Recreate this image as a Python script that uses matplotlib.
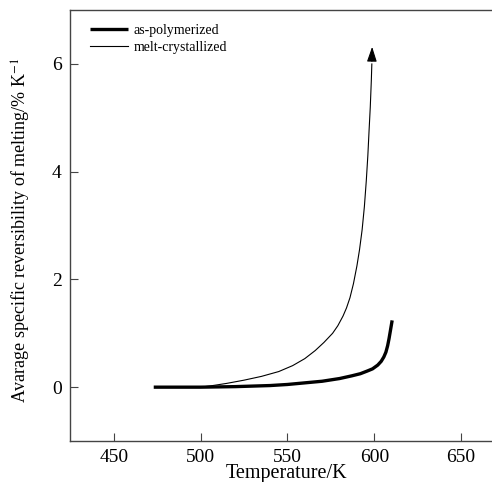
import matplotlib
matplotlib.use('Agg')
import matplotlib.pyplot as plt

# as-polymerized (thick)
t_poly = [473, 490, 500, 510, 520, 530, 540, 550, 560, 570, 580, 587, 592, 596, 599,
          602, 604, 605.5, 606.7, 607.7, 608.5, 609.3, 610.3]
r_poly = [0.0, 0.0, 0.0, 0.005, 0.01, 0.02, 0.03, 0.05, 0.08, 0.11, 0.16, 0.21, 0.25, 0.30, 0.34,
          0.41, 0.48, 0.56, 0.65, 0.77, 0.90, 1.05, 1.24]

# melt-crystallized (thin, ends in arrow)
t_melt = [500, 507, 515, 525, 535, 545, 553, 560, 566, 571, 576, 579, 582, 584, 586, 588,
          590, 591.5, 593, 594.3, 595.4, 596.3, 597, 597.7, 598.3, 598.6]
r_melt = [0.0, 0.03, 0.07, 0.13, 0.20, 0.29, 0.40, 0.53, 0.68, 0.83, 1.0, 1.14, 1.32, 1.47, 1.66, 1.92,
          2.25, 2.55, 2.92, 3.35, 3.83, 4.3, 4.76, 5.2, 5.69, 6.0]
arrow_tip = (598.8, 6.37)

xticks = [450, 500, 550, 600, 650]
yticks = [0, 2, 4, 6]

plt.rcParams['font.family'] = ['Liberation Serif', 'DejaVu Serif']
plt.rcParams['mathtext.fontset'] = 'stix'

fig = plt.figure(figsize=(4.92, 4.82), dpi=100)
ax = fig.add_axes([0.142, 0.085, 0.858, 0.894])

ax.plot(t_poly, r_poly, color='black', lw=2.4, solid_capstyle='butt', solid_joinstyle='round',
        label='as-polymerized')
ax.plot(t_melt, r_melt, color='black', lw=0.8, solid_joinstyle='round', label='melt-crystallized')
ax.annotate('', xy=arrow_tip, xytext=(t_melt[-1], r_melt[-1]),
            arrowprops=dict(arrowstyle='-|>,head_length=0.9,head_width=0.3', color='black', lw=0.8))

ax.set_xlim(424.7, 667.8)
ax.set_ylim(-1, 7)
ax.set_xticks(xticks)
ax.set_yticks(yticks)
ax.tick_params(direction='in', length=6, width=0.8, color='#444444', labelsize=14, pad=6)

for side in ['left', 'bottom', 'top']:
    ax.spines[side].set_color('#444444')
    ax.spines[side].set_linewidth(1.0)
ax.spines['right'].set_visible(False)

ax.set_xlabel('Temperature/K', fontsize=14.5, labelpad=2)
ax.xaxis.set_label_coords(0.513, -0.053, transform=ax.transAxes)
ax.xaxis.label.set_va('top')
ax.set_ylabel('Avarage specific reversibility of melting/% K$^{-1}$', fontsize=13)
ax.yaxis.set_label_coords(-0.088, 0.49)

leg = ax.legend(loc='upper left', bbox_to_anchor=(0.025, 0.99), frameon=False, fontsize=10,
                handlelength=2.7, handletextpad=0.4, labelspacing=0.3, borderpad=0.2)

fig.savefig('out.png', dpi=100)
